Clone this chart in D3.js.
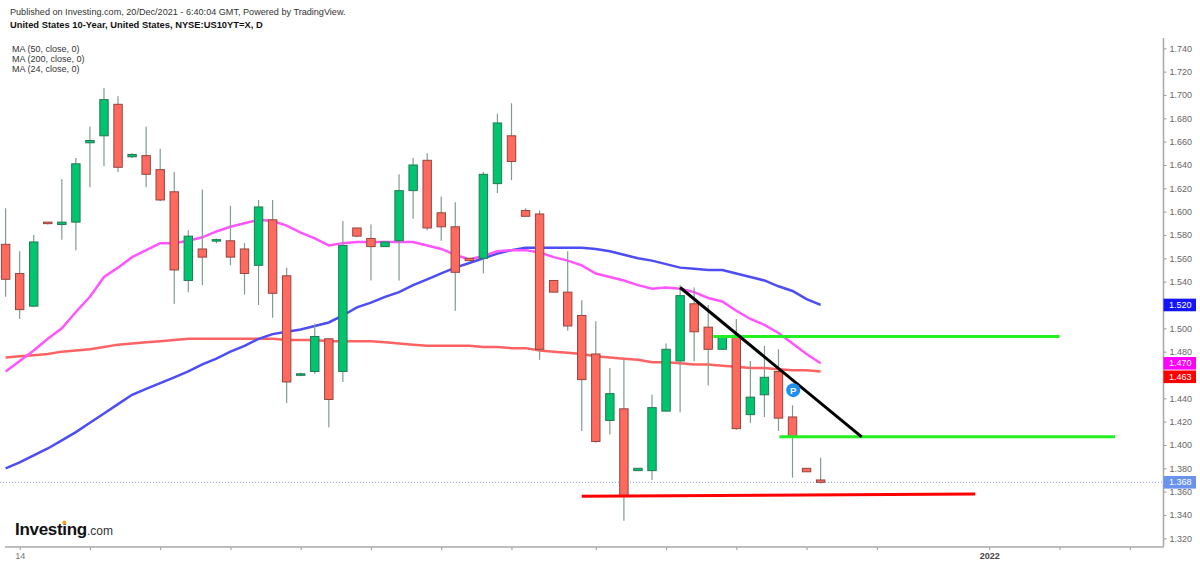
<!DOCTYPE html>
<html>
<head>
<meta charset="utf-8">
<script src="https://cdn.jsdelivr.net/npm/d3@7/dist/d3.min.js"></script>
<style>
  body { margin: 0; background: #fff; }
  svg { display: block; font-family: "Liberation Sans", Arial, sans-serif; }
</style>
</head>
<body>
<svg id="chart"></svg>
<script>
// daily candles, oldest first (last one = 20 Dec 2021, partial)
var opens  = [1.572,1.547,1.519,1.591,1.589,1.591,1.659,1.665,1.692,1.647,
              1.648,1.636,1.617,1.541,1.568,1.575,1.575,1.568,1.554,1.593,
              1.545,1.460,1.463,1.491,1.463,1.586,1.577,1.570,1.575,1.618,
              1.644,1.599,1.587,1.560,1.560,1.624,1.665,1.601,1.598,1.541,
              1.531,1.511,1.478,1.421,1.431,1.378,1.378,1.429,1.472,1.521,
              1.501,1.482,1.494,1.426,1.443,1.463,1.424,1.380,1.370];
var highs  = [1.603,1.566,1.580,1.591,1.628,1.646,1.673,1.706,1.699,1.650,
              1.673,1.654,1.634,1.584,1.619,1.577,1.605,1.573,1.610,1.610,
              1.552,1.462,1.504,1.491,1.592,1.586,1.589,1.574,1.632,1.646,
              1.650,1.613,1.608,1.560,1.634,1.684,1.693,1.603,1.601,1.541,
              1.566,1.524,1.506,1.466,1.473,1.380,1.443,1.487,1.537,1.535,
              1.520,1.493,1.508,1.472,1.485,1.482,1.434,1.380,1.389];
var lows   = [1.527,1.508,1.518,1.589,1.576,1.567,1.621,1.639,1.634,1.646,
              1.621,1.609,1.521,1.531,1.537,1.573,1.554,1.529,1.520,1.509,
              1.436,1.459,1.461,1.415,1.454,1.578,1.541,1.570,1.541,1.594,
              1.584,1.575,1.515,1.558,1.547,1.616,1.627,1.596,1.473,1.531,
              1.498,1.412,1.402,1.409,1.335,1.378,1.370,1.429,1.428,1.472,
              1.451,1.482,1.413,1.419,1.424,1.412,1.372,1.377,1.367];
var closes = [1.542,1.516,1.574,1.590,1.591,1.641,1.661,1.696,1.638,1.649,
              1.632,1.610,1.550,1.579,1.561,1.576,1.561,1.547,1.604,1.530,
              1.454,1.461,1.493,1.439,1.571,1.579,1.570,1.574,1.618,1.640,
              1.586,1.587,1.548,1.558,1.632,1.676,1.643,1.596,1.482,1.531,
              1.502,1.456,1.403,1.444,1.356,1.380,1.432,1.482,1.528,1.497,
              1.482,1.493,1.414,1.441,1.458,1.423,1.407,1.377,1.368];

// moving averages, one value per candle
var ma50  = [1.380,1.385,1.391,1.397,1.404,1.411,1.419,1.427,1.435,1.443,
             1.448,1.453,1.458,1.463,1.469,1.474,1.480,1.485,1.491,1.495,
             1.497,1.499,1.502,1.505,1.511,1.518,1.522,1.527,1.531,1.537,
             1.542,1.547,1.552,1.556,1.560,1.564,1.567,1.569,1.569,1.569,
             1.569,1.569,1.568,1.566,1.563,1.560,1.558,1.555,1.552,1.551,
             1.550,1.550,1.547,1.544,1.541,1.536,1.532,1.525,1.520];
var ma200 = [1.475,1.476,1.477,1.478,1.480,1.481,1.482,1.484,1.486,1.487,
             1.488,1.489,1.490,1.491,1.491,1.491,1.491,1.491,1.491,1.491,
             1.490,1.490,1.490,1.489,1.489,1.489,1.489,1.488,1.487,1.486,
             1.485,1.485,1.485,1.485,1.484,1.484,1.483,1.483,1.481,1.480,
             1.479,1.478,1.476,1.475,1.474,1.473,1.471,1.471,1.470,1.469,
             1.469,1.468,1.467,1.466,1.466,1.465,1.464,1.464,1.463];
var ma24  = [1.463,1.472,1.481,1.491,1.500,1.514,1.527,1.544,1.552,1.561,
             1.567,1.573,1.573,1.575,1.578,1.583,1.587,1.590,1.593,1.592,
             1.588,1.582,1.577,1.571,1.573,1.574,1.574,1.574,1.574,1.574,
             1.571,1.568,1.563,1.559,1.562,1.566,1.567,1.567,1.565,1.561,
             1.558,1.554,1.547,1.544,1.541,1.537,1.534,1.535,1.534,1.531,
             1.526,1.523,1.515,1.508,1.503,1.496,1.487,1.478,1.470];

var yTicks = [1.32,1.34,1.36,1.38,1.40,1.42,1.44,1.46,1.48,1.50,1.52,
              1.54,1.56,1.58,1.60,1.62,1.64,1.66,1.68,1.70,1.72,1.74];
var xTickIdx  = [1,6,11,16,21,26,31,36,42,47,52,57,62,70,75,80];
var xTickText = ["14","","","","","","","","","","","","","2022","",""];

// drawings on the chart (candle index / yield)
var greenLevels = [1.493, 1.407];
var greenFrom   = [50.36, 55.06];
var greenTo     = [75.0, 78.95];
var supportIdx  = [41.0, 69.0];
var supportVal  = [1.356, 1.358];
var trendIdx    = [48, 60.92];
var trendVal    = [1.535, 1.407];
var lastPrice   = 1.368;

var W = 1200, H = 566;
var plotRight = 1163.5, plotBottom = 547, plotTop = 38;

var svg = d3.select("#chart").attr("width", W).attr("height", H);

var x = d3.scaleLinear().domain([-0.4, 82.4]).range([0, plotRight]);
var y = d3.scaleLinear().domain([1.32, 1.74]).range([538.3, 48.3]);

var candles = opens.map(function(o, i) {
  return { i: i, o: o, h: highs[i], l: lows[i], c: closes[i] };
});

svg.append("defs").append("clipPath").attr("id", "plot")
  .append("rect").attr("x", 0).attr("y", plotTop)
  .attr("width", plotRight).attr("height", plotBottom - plotTop);

var plot = svg.append("g").attr("clip-path", "url(#plot)");

// last price dotted line
plot.append("line")
  .attr("x1", 0).attr("x2", plotRight)
  .attr("y1", y(lastPrice)).attr("y2", y(lastPrice))
  .attr("stroke", "#7d9cf0").attr("stroke-width", 1)
  .attr("stroke-dasharray", "1,2");

// moving averages
var maLine = d3.line().x(function(d, i) { return x(i); }).y(function(d) { return y(d); });
plot.append("path").attr("d", maLine(ma200)).attr("fill", "none")
  .attr("stroke", "#ff6262").attr("stroke-width", 2.5);
plot.append("path").attr("d", maLine(ma50)).attr("fill", "none")
  .attr("stroke", "#4d4df5").attr("stroke-width", 2.5);
plot.append("path").attr("d", maLine(ma24)).attr("fill", "none")
  .attr("stroke", "#ff55ff").attr("stroke-width", 2.5);

// candles
var bw = 8.4;
var cg = plot.selectAll("g.candle").data(candles).enter().append("g");

cg.append("line")
  .attr("x1", function(d) { return x(d.i); })
  .attr("x2", function(d) { return x(d.i); })
  .attr("y1", function(d) { return y(d.h); })
  .attr("y2", function(d) { return y(d.l); })
  .attr("stroke", "#809d8d").attr("stroke-width", 1.2);

cg.append("rect")
  .attr("x", function(d) { return x(d.i) - bw / 2; })
  .attr("width", bw)
  .attr("y", function(d) { return y(Math.max(d.o, d.c)); })
  .attr("height", function(d) { return Math.max(1.5, Math.abs(y(d.o) - y(d.c))); })
  .attr("fill", function(d) { return d.c >= d.o ? "#00c46e" : "#ff6a5f"; })
  .attr("stroke", function(d) { return d.c >= d.o ? "#237a55" : "#93463f"; })
  .attr("stroke-width", 1);

// drawings
greenLevels.forEach(function(v, k) {
  plot.append("line")
    .attr("x1", x(greenFrom[k])).attr("x2", x(greenTo[k]))
    .attr("y1", y(v)).attr("y2", y(v))
    .attr("stroke", "#22f022").attr("stroke-width", 3);
});

plot.append("line")
  .attr("x1", x(supportIdx[0])).attr("x2", x(supportIdx[1]))
  .attr("y1", y(supportVal[0])).attr("y2", y(supportVal[1]))
  .attr("stroke", "#f00").attr("stroke-width", 3);

plot.append("line")
  .attr("x1", x(trendIdx[0])).attr("x2", x(trendIdx[1]))
  .attr("y1", y(trendVal[0])).attr("y2", y(trendVal[1]))
  .attr("stroke", "#000").attr("stroke-width", 3);

// the little "P" marker
var pm = plot.append("g").attr("transform", "translate(" + x(56.05) + "," + y(1.447) + ")");
pm.append("circle").attr("r", 7).attr("fill", "#1e90f0");
pm.append("text").attr("text-anchor", "middle").attr("dy", "0.36em")
  .attr("font-size", 9.5).attr("font-weight", "bold").attr("fill", "#fff").text("P");

// axes
var yAxis = d3.axisRight(y).tickValues(yTicks).tickFormat(d3.format(".3f"))
  .tickSize(3).tickPadding(3);
var ya = svg.append("g").attr("transform", "translate(" + plotRight + ",0)").call(yAxis);
ya.select(".domain").remove();
ya.selectAll("line").attr("stroke", "#999");
ya.selectAll("text").attr("fill", "#666").attr("font-size", 9)
  .attr("font-family", "Liberation Sans, Arial, sans-serif");

var xAxis = d3.axisBottom(x).tickValues(xTickIdx)
  .tickFormat(function(d, i) { return xTickText[i]; })
  .tickSize(3).tickPadding(3);
var xa = svg.append("g").attr("transform", "translate(0," + plotBottom + ")").call(xAxis);
xa.select(".domain").remove();
xa.selectAll("line").attr("stroke", "#999");
xa.selectAll("text").attr("font-size", 9)
  .attr("font-family", "Liberation Sans, Arial, sans-serif")
  .attr("font-weight", function(d, i) { return xTickText[i] === "2022" ? "bold" : "normal"; })
  .attr("fill", function(d, i) { return xTickText[i] === "2022" ? "#444" : "#777"; });

svg.append("line").attr("x1", plotRight).attr("x2", plotRight)
  .attr("y1", plotTop).attr("y2", plotBottom)
  .attr("stroke", "#a8a8a8").attr("stroke-width", 1.5);
svg.append("line").attr("x1", 5).attr("x2", plotRight)
  .attr("y1", plotBottom).attr("y2", plotBottom)
  .attr("stroke", "#a8a8a8").attr("stroke-width", 1.5);

// price labels on the right axis
var priceTags = [
  { v: 1.520, cy: y(1.520), fill: "#1414ff" },
  { v: 1.470, cy: y(1.470), fill: "#ff00ff" },
  { v: 1.463, cy: y(1.470) + 13.5, fill: "#ff0000" },
  { v: lastPrice, cy: y(lastPrice), fill: "#6a93ee" }
];
var tags = svg.selectAll("g.tag").data(priceTags).enter().append("g")
  .attr("transform", function(d) { return "translate(" + plotRight + "," + d.cy + ")"; });
tags.append("rect").attr("x", 0).attr("y", -6.3).attr("width", 32.5).attr("height", 12.6)
  .attr("fill", function(d) { return d.fill; });
tags.append("text").attr("x", 5.5).attr("dy", "0.35em").attr("font-size", 9)
  .attr("fill", "#fff").text(function(d) { return d3.format(".3f")(d.v); });

// header texts
svg.append("text").attr("x", 10).attr("y", 15).attr("font-size", 9.1).attr("fill", "#333")
  .text("Published on Investing.com, 20/Dec/2021 - 6:40:04 GMT, Powered by TradingView.");
svg.append("text").attr("x", 10).attr("y", 27.5).attr("font-size", 9.35).attr("font-weight", "bold")
  .attr("fill", "#111").text("United States 10-Year, United States, NYSE:US10YT=X, D");
var legend = ["MA (50, close, 0)", "MA (200, close, 0)", "MA (24, close, 0)"];
legend.forEach(function(t, k) {
  svg.append("text").attr("x", 12).attr("y", 51.5 + k * 10).attr("font-size", 9)
    .attr("fill", "#333").text(t);
});

// Investing.com logo
var logo = svg.append("text").attr("x", 15).attr("y", 535);
logo.append("tspan").attr("font-size", 17).attr("font-weight", "bold")
  .attr("letter-spacing", -0.3).attr("fill", "#111").text("Investing");
logo.append("tspan").attr("font-size", 12).attr("fill", "#333").text(".com");
var ip = logo.node().getStartPositionOfChar(6);
var iw = logo.node().getExtentOfChar(6).width;
svg.append("circle").attr("cx", ip.x + iw / 2 - 0.2).attr("cy", 522.6).attr("r", 2)
  .attr("fill", "#f7a41b");
</script>
</body>
</html>
